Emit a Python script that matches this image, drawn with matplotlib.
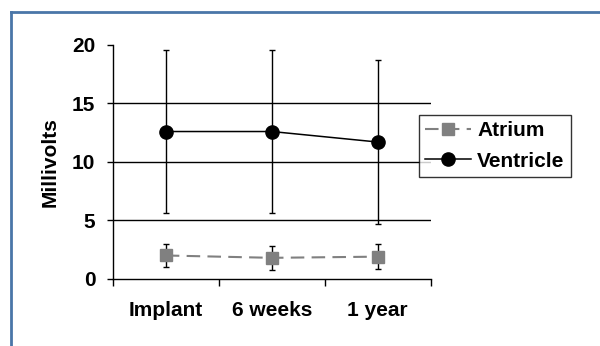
import numpy as np
import matplotlib
matplotlib.use('Agg')
import matplotlib.pyplot as plt
from matplotlib.lines import Line2D

categories = ['Implant', '6 weeks', '1 year']
atrium = [2.0, 1.8, 1.9]
atrium_err = [0.95, 1.0, 1.05]
ventricle = [12.6, 12.6, 11.7]
ventricle_err = [7.0, 7.0, 7.0]
yticks = [0, 5, 10, 15, 20]

plt.rcParams['font.family'] = ['Liberation Sans', 'DejaVu Sans']
plt.rcParams['font.weight'] = 'bold'

fig = plt.figure(figsize=(6, 3.46), dpi=100)
ax = fig.add_axes([0.188, 0.194, 0.530, 0.676])

x = np.arange(len(categories))
grey = '#808080'
dash = (0, (6.5, 3.5))

for y in yticks[1:-1]:
    ax.axhline(y, color='black', lw=1, zorder=1)

ax.errorbar(x, ventricle, yerr=ventricle_err, color='black', lw=1.1,
            marker='o', ms=9.5, capsize=2.5, capthick=1, elinewidth=1,
            zorder=3, label='Ventricle')
ax.errorbar(x, atrium, yerr=atrium_err, color=grey, lw=1.5,
            ls=dash, marker='s', ms=9, mfc=grey, mec=grey,
            ecolor='black', capsize=2.5, capthick=1, elinewidth=1,
            zorder=3, label='Atrium')

ax.set_xlim(-0.5, len(categories) - 0.5)
ax.set_ylim(0, 20)
ax.set_yticks(yticks)
ax.set_xticks(np.arange(len(categories) + 1) - 0.5)
ax.set_xticklabels([''] * (len(categories) + 1))
ax.set_xticks(x, minor=True)
ax.set_xticklabels(categories, minor=True)
ax.tick_params(axis='x', which='major', direction='out', length=5, width=1)
ax.tick_params(axis='x', which='minor', length=0, pad=16, labelsize=15)
ax.tick_params(axis='y', direction='out', length=4, width=1, pad=8.5,
               labelsize=15)

ax.spines['top'].set_visible(False)
ax.spines['right'].set_visible(False)
ax.spines['left'].set_linewidth(1)
ax.spines['bottom'].set_linewidth(1)
ax.set_ylabel('Millivolts', fontsize=15, fontweight='bold', labelpad=9)

handles = [
    Line2D([], [], color=grey, lw=1.5, ls=dash, marker='s',
           ms=9, mfc=grey, mec=grey),
    Line2D([], [], color='black', lw=1.1, marker='o', ms=9.5),
]
leg = fig.legend(handles, ['Atrium', 'Ventricle'], loc='upper left',
                 bbox_to_anchor=(0.698, 0.668), fontsize=15, frameon=True,
                 fancybox=False, edgecolor='black', handlelength=2.2,
                 handletextpad=0.3, borderpad=0.3, labelspacing=0.55,
                 borderaxespad=0)
leg.get_frame().set_linewidth(1)

# blue frame on top and left
fig.add_artist(Line2D([0.018, 1.0], [0.966, 0.966], color='#4a76a8', lw=2,
                      transform=fig.transFigure))
fig.add_artist(Line2D([0.018, 0.018], [0.0, 0.966], color='#4a76a8', lw=2,
                      transform=fig.transFigure))

fig.savefig('out.png', dpi=100)
